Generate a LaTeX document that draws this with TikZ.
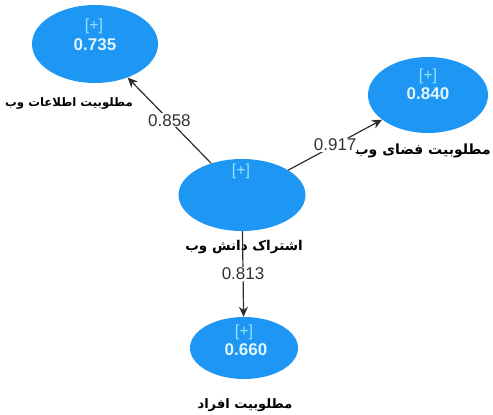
\documentclass[tikz,border=0pt]{standalone}
\usepackage{fontspec}
\setmainfont{Liberation Sans}
\newfontfamily\fa[Script=Arabic]{DejaVu Sans}
\TeXXeTstate=1
\usetikzlibrary{shapes.geometric,arrows.meta}
\definecolor{lvblue}{RGB}{30,150,243}
\definecolor{plusc}{RGB}{150,228,255}
\definecolor{numc}{RGB}{225,245,255}
\definecolor{linec}{RGB}{45,45,45}
\tikzset{
  lv/.style={ellipse, fill=lvblue, inner sep=0pt},
  plus/.style={text=plusc, font=\fontsize{16}{16}\selectfont, inner sep=0pt},
  num/.style={text=numc, font=\fontsize{17}{17}\selectfont\bfseries, inner sep=0pt},
  coef/.style={fill=white, text=black!80, font=\fontsize{17}{17}\selectfont, inner sep=1pt},
  lvname/.style={text=black, font=\fa\bfseries\fontsize{11.7}{12}\selectfont, inner sep=0pt},
  arr/.style={draw=linec, line width=1.2pt, -{Stealth[length=10pt,width=9pt]}}
}
\begin{document}
\begin{tikzpicture}[x=1pt,y=-1pt]
\useasboundingbox (0,0) rectangle (493,415);
% latent variables
\node[lv, minimum width=126pt, minimum height=78pt] (a) at (95,44) {};
\node[lv, minimum width=120pt, minimum height=76pt] (b) at (428,95) {};
\node[lv, minimum width=127pt, minimum height=72pt] (c) at (242,195) {};
\node[lv, minimum width=108pt, minimum height=62pt] (d) at (244,348) {};
% inner texts
\node[plus] (ap) at (94,26) {[+]};
\node[num] (an) at (95,45) {0.735};
\node[plus] (bp) at (428,76) {[+]};
\node[num] (bn) at (428,94) {0.840};
\node[plus] (cp) at (241,171) {[+]};
\node[plus] (dp) at (244,332) {[+]};
\node[num] (dn) at (246,350) {0.660};
% names
\node[lvname] (al) at (69,103) {\beginR مطلوبیت اطلاعات وب\endR};
\node[lvname, anchor=east, font=\fa\bfseries\fontsize{14}{15}\selectfont] (bl) at (491,151) {\beginR مطلوبیت فضای وب\endR};
\node[lvname, font=\fa\bfseries\fontsize{13.5}{14}\selectfont] (cl) at (244,247) {\beginR اشتراک دانش وب\endR};
\node[lvname, font=\fa\bfseries\fontsize{13}{14}\selectfont] (dl) at (245,405) {\beginR مطلوبیت افراد\endR};
% paths
\draw[arr] (c) -- node[coef] (e1) {0.858} (a);
\draw[arr] (c) -- node[coef] (e2) {0.917} (b);
\draw[arr] (c) -- node[coef] (e3) {0.813} (d);
\end{tikzpicture}
\end{document}
